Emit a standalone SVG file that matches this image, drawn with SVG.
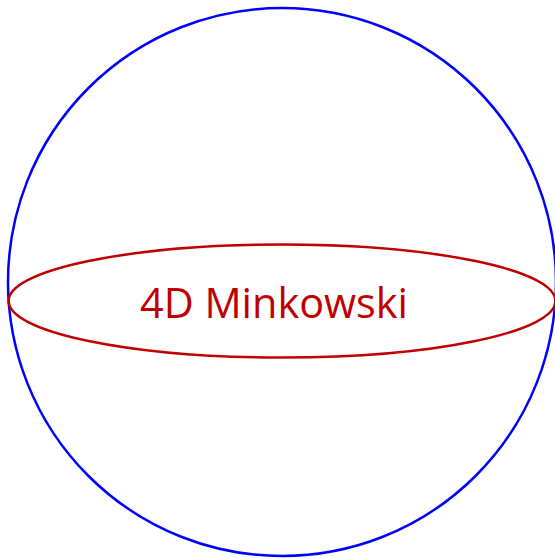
<svg xmlns="http://www.w3.org/2000/svg" width="555" height="559" viewBox="0 0 555 559">
<style>
.sphere{fill:none;stroke:#0000FF;stroke-width:2.5}
.slice{fill:none;stroke:#C00000;stroke-width:2.5}
.lbl{font-family:"Open Sans","Noto Sans",sans-serif;font-size:42px;fill:#C00000}
</style>
<rect width="555" height="559" fill="#FFFFFF"/>
<g id="sphere"><circle class="sphere" cx="282" cy="282" r="274"/></g>
<g id="minkowski">
<ellipse class="slice" cx="282" cy="301" rx="273.5" ry="56.5"/>
<text class="lbl" x="274" y="318" text-anchor="middle" textLength="268" lengthAdjust="spacingAndGlyphs">4D Minkowski</text>
</g>
</svg>
